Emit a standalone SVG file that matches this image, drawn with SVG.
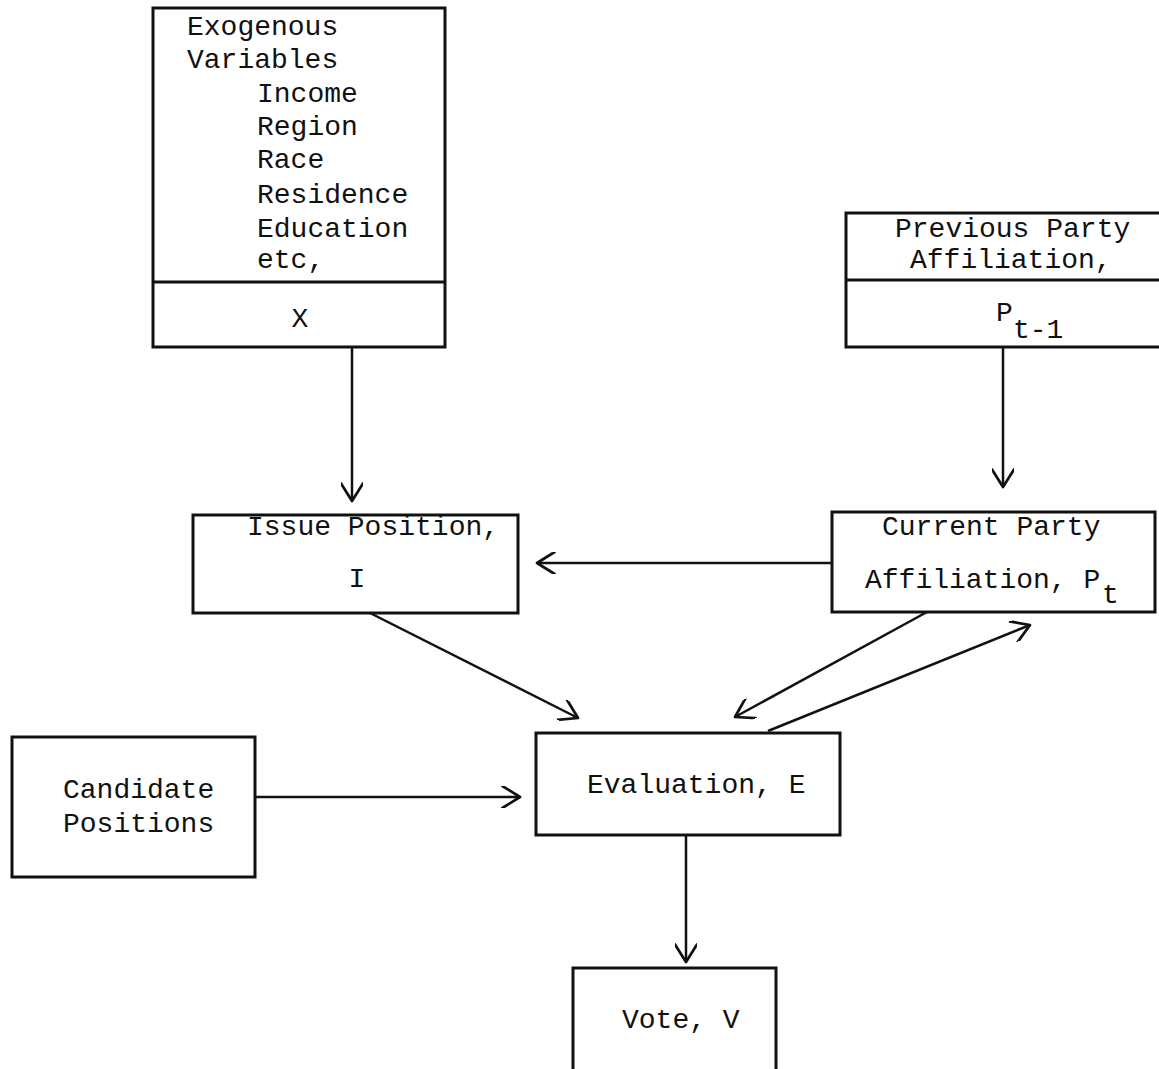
<svg xmlns="http://www.w3.org/2000/svg" width="1159" height="1069" viewBox="0 0 1159 1069">
<style>
  .box { fill: none; stroke: #111; stroke-width: 3; }
  .div { stroke: #111; stroke-width: 3; }
  .t { font-family: "Liberation Mono", "DejaVu Sans Mono", monospace; font-size: 28px; fill: #111; }
  .c { stroke: #111; stroke-width: 2.5; fill: none; marker-end: url(#arr); }
</style>
<defs>
  <marker id="arr" viewBox="0 0 20 20" refX="18" refY="10" markerWidth="22" markerHeight="22" markerUnits="userSpaceOnUse" orient="auto">
    <path d="M2,0 L18,10 L2,20" fill="none" stroke="#111" stroke-width="2.5" stroke-linecap="round" stroke-linejoin="round"/>
  </marker>
</defs>
<rect width="1159" height="1069" fill="#ffffff"/>

<g id="exogenous">
  <rect class="box" x="153" y="8" width="292" height="339"/>
  <line class="div" x1="153" y1="282" x2="445" y2="282"/>
  <text class="t" x="187" y="35">Exogenous</text>
  <text class="t" x="187" y="68">Variables</text>
  <text class="t" x="257" y="102">Income</text>
  <text class="t" x="257" y="135">Region</text>
  <text class="t" x="257" y="168">Race</text>
  <text class="t" x="257" y="203">Residence</text>
  <text class="t" x="257" y="237">Education</text>
  <text class="t" x="257" y="268">etc,</text>
  <text class="t" x="300" y="327" text-anchor="middle">X</text>
</g>

<g id="previous">
  <rect class="box" x="846" y="213" width="320" height="134"/>
  <line class="div" x1="846" y1="280" x2="1166" y2="280"/>
  <text class="t" x="895" y="237">Previous Party</text>
  <text class="t" x="910" y="268">Affiliation,</text>
  <text class="t" x="996" y="321">P</text>
  <text class="t" x="1013" y="338">t-1</text>
</g>

<g id="issue">
  <rect class="box" x="193" y="515" width="325" height="98"/>
  <text class="t" x="247" y="535">Issue Position,</text>
  <text class="t" x="357" y="587" text-anchor="middle">I</text>
</g>

<g id="current">
  <rect class="box" x="832" y="512" width="323" height="100"/>
  <text class="t" x="882" y="535">Current Party</text>
  <text class="t" x="865" y="588">Affiliation, P</text>
  <text class="t" x="1102" y="603">t</text>
</g>

<g id="candidate">
  <rect class="box" x="12" y="737" width="243" height="140"/>
  <text class="t" x="63" y="798">Candidate</text>
  <text class="t" x="63" y="832">Positions</text>
</g>

<g id="evaluation">
  <rect class="box" x="536" y="733" width="304" height="102"/>
  <text class="t" x="587" y="793">Evaluation, E</text>
</g>

<g id="vote">
  <rect class="box" x="573" y="968" width="203" height="120"/>
  <text class="t" x="622" y="1028">Vote, V</text>
</g>

<g id="connectors">
  <line class="c" x1="352" y1="347" x2="352" y2="501"/>
  <line class="c" x1="1003" y1="347" x2="1003" y2="487"/>
  <line class="c" x1="832" y1="563" x2="537" y2="563"/>
  <line class="c" x1="370" y1="613" x2="578" y2="718"/>
  <line class="c" x1="927" y1="612" x2="735" y2="717"/>
  <line class="c" x1="768" y1="731" x2="1030" y2="625"/>
  <line class="c" x1="255" y1="797" x2="520" y2="797"/>
  <line class="c" x1="686" y1="835" x2="686" y2="962"/>
</g>
</svg>
